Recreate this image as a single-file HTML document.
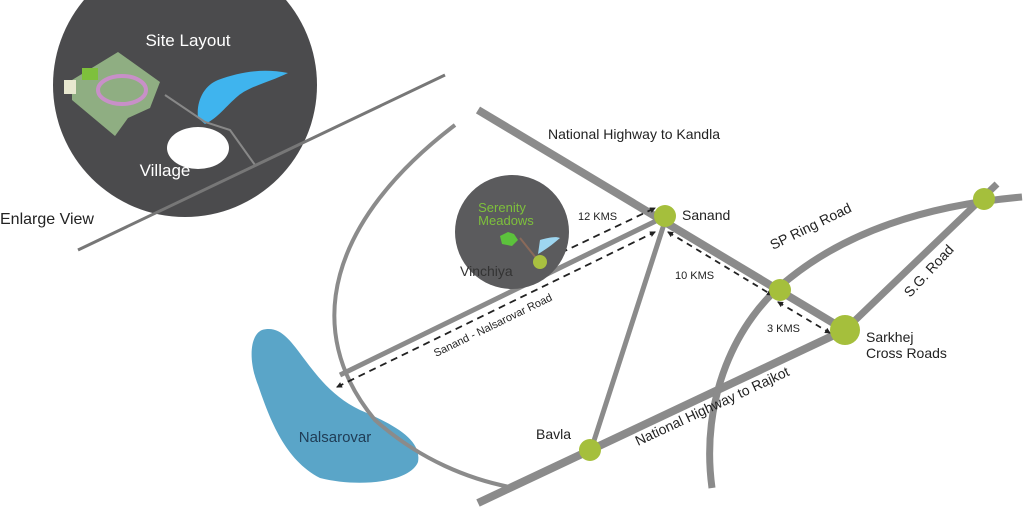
<!DOCTYPE html>
<html><head><style>
body{margin:0;background:#fff;}
svg{display:block;font-family:"Liberation Sans",sans-serif;}
</style></head><body>
<svg width="1026" height="510" viewBox="0 0 1026 510">
<defs>
<marker id="ah" markerWidth="6" markerHeight="6" refX="5" refY="3" orient="auto" markerUnits="userSpaceOnUse"><path d="M0,0 L6,3 L0,6 z" fill="#222"/></marker>
<marker id="as" markerWidth="6" markerHeight="6" refX="1" refY="3" orient="auto" markerUnits="userSpaceOnUse"><path d="M6,0 L0,3 L6,6 z" fill="#222"/></marker>
</defs>
<rect width="1026" height="510" fill="#fff"/>
<!-- big circle -->
<circle cx="185" cy="85" r="132" fill="#4b4b4d"/>
<path d="M72,80 L118,52 L160,82 L150,108 L128,118 L115,136 L72,100 Z" fill="#8fae82"/>
<ellipse cx="122" cy="90" rx="24" ry="14" fill="none" stroke="#c890c8" stroke-width="4"/>
<rect x="82" y="68" width="16" height="12" fill="#7ec03c"/>
<rect x="64" y="80" width="12" height="14" fill="#e8e8d0"/>
<path d="M198,118 C196,100 205,85 218,80 C240,72 262,68 288,73 C270,82 250,86 238,96 C226,106 218,118 205,124 Z" fill="#3fb4ee"/>
<ellipse cx="198" cy="148" rx="31" ry="21" fill="#fff"/>
<path d="M165,95 L205,122 L230,130 L255,165" fill="none" stroke="#888" stroke-width="2"/>
<text x="188" y="46" font-size="17" fill="#fff" text-anchor="middle">Site Layout</text>
<text x="165" y="176" font-size="17" fill="#fff" text-anchor="middle">Village</text>
<line x1="78" y1="250" x2="445" y2="75" stroke="#777" stroke-width="3"/>
<text x="0" y="224" font-size="16" fill="#222">Enlarge View</text>
<!-- lake -->
<path d="M262,330 C250,335 248,360 258,385 C270,420 285,460 320,478 C360,488 410,482 418,462 C422,440 395,425 360,410 C335,398 320,380 305,360 C290,340 280,325 262,330 Z" fill="#5aa5c8"/>
<text x="335" y="442" font-size="15" fill="#1f3c55" text-anchor="middle">Nalsarovar</text>
<!-- roads -->
<path d="M455,125 C330,220 300,330 375,420 C420,460 470,480 515,488" fill="none" stroke="#8b8b8b" stroke-width="4"/>
<line x1="478" y1="110" x2="845" y2="330" stroke="#8b8b8b" stroke-width="8"/>
<line x1="478" y1="503" x2="845" y2="330" stroke="#8b8b8b" stroke-width="8"/>
<line x1="845" y1="330" x2="997" y2="184" stroke="#8b8b8b" stroke-width="7"/>
<path d="M712,488 C700,400 735,320 790,278 C850,230 930,205 1022,197" fill="none" stroke="#8b8b8b" stroke-width="7"/>
<line x1="340" y1="375" x2="662" y2="218" stroke="#8b8b8b" stroke-width="5"/>
<line x1="666" y1="218" x2="591" y2="450" stroke="#8b8b8b" stroke-width="5"/>
<!-- dashed -->
<line x1="337" y1="387" x2="655" y2="232" stroke="#222" stroke-width="1.8" stroke-dasharray="7,5" marker-end="url(#ah)" marker-start="url(#as)"/>
<line x1="550" y1="258" x2="655" y2="208" stroke="#222" stroke-width="1.8" stroke-dasharray="7,5" marker-end="url(#ah)"/>
<line x1="668" y1="232" x2="772" y2="295" stroke="#222" stroke-width="1.8" stroke-dasharray="6,5" marker-end="url(#ah)" marker-start="url(#as)"/>
<line x1="778" y1="302" x2="830" y2="333" stroke="#222" stroke-width="1.8" stroke-dasharray="6,5" marker-end="url(#ah)" marker-start="url(#as)"/>
<!-- small circle -->
<circle cx="512" cy="232" r="57" fill="#5b5b5d"/>
<text x="502" y="212" font-size="13" fill="#7ec03c" text-anchor="middle">Serenity</text>
<text x="506" y="225" font-size="13" fill="#7ec03c" text-anchor="middle">Meadows</text>
<path d="M500,236 L508,232 L514,234 L518,240 L512,246 L502,244 Z" fill="#5cc23c"/>
<path d="M540,240 C548,238 555,236 560,238 C552,245 545,250 538,254 Z" fill="#9ed6f0"/>
<line x1="536" y1="258" x2="520" y2="238" stroke="#8a6a5a" stroke-width="2"/>
<circle cx="540" cy="262" r="7" fill="#a8c040"/>
<text x="460" y="276" font-size="14" fill="#333">Vinchiya</text>
<!-- nodes -->
<circle cx="665" cy="216" r="11" fill="#a5bf3c"/>
<circle cx="780" cy="290" r="11" fill="#a5bf3c"/>
<circle cx="845" cy="330" r="15" fill="#a5bf3c"/>
<circle cx="984" cy="199" r="11" fill="#a5bf3c"/>
<circle cx="590" cy="450" r="11" fill="#a5bf3c"/>
<!-- labels -->
<text x="548" y="139" font-size="14" fill="#222">National Highway to Kandla</text>
<text x="682" y="220" font-size="14" fill="#222">Sanand</text>
<text x="578" y="220" font-size="11" fill="#222">12 KMS</text>
<text x="675" y="279" font-size="11" fill="#222">10 KMS</text>
<text x="767" y="332" font-size="11" fill="#222">3 KMS</text>
<text x="866" y="342" font-size="14" fill="#222">Sarkhej</text>
<text x="866" y="358" font-size="14" fill="#222">Cross Roads</text>
<text x="536" y="439" font-size="14" fill="#222">Bavla</text>
<text font-size="14" fill="#222" transform="translate(773,250) rotate(-26)">SP Ring Road</text>
<text font-size="14" fill="#222" transform="translate(910,298) rotate(-47)">S.G. Road</text>
<text font-size="14" fill="#222" transform="translate(638,446) rotate(-25)">National Highway to Rajkot</text>
<text font-size="11" fill="#222" transform="translate(436,357) rotate(-26)">Sanand - Nalsarovar Road</text>
</svg>
</body></html>
